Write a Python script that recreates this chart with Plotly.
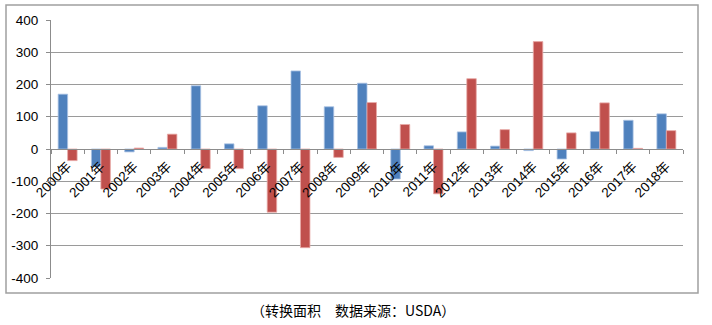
import plotly.graph_objects as go

years = [f"{y}年" for y in range(2000, 2019)]
series_a = [170, -55, -9, 5, 196, 16, 134, 242, 131, 204, -93, 10, 53, 9, -5, -31, 54, 89, 109]
series_b = [-36, -124, 3, 46, -61, -61, -196, -306, -26, 144, 76, -139, 218, 60, 333, 50, 143, 2, 57]
y_ticks = [400, 300, 200, 100, 0, -100, -200, -300, -400]
caption = "（转换面积　数据来源：USDA）"

fig = go.Figure()
fig.add_trace(go.Bar(x=years, y=series_a, name="A",
                     marker=dict(color="#4F81BD", line=dict(color="#A9C1E3", width=0.8))))
fig.add_trace(go.Bar(x=years, y=series_b, name="B",
                     marker=dict(color="#C0504D", line=dict(color="#E8A9A7", width=0.8))))

fig.update_layout(
    width=712, height=325,
    margin=dict(l=51, r=29, t=20, b=47),
    paper_bgcolor="white", plot_bgcolor="white",
    barmode="group", bargap=0.43, bargroupgap=0,
    showlegend=False,
    font=dict(family="Liberation Sans, Arial, sans-serif", size=13, color="#000000"),
)
fig.update_yaxes(
    range=[-400, 400], tickvals=y_ticks, ticktext=[str(v) for v in y_ticks],
    showgrid=True, gridcolor="#9A9A9A", gridwidth=1.4,
    zeroline=False, showline=True, linecolor="#8C8C8C", linewidth=1,
    ticks="outside", ticklen=4, tickcolor="#8C8C8C",
    tickfont=dict(size=13.5), ticklabelstandoff=5, domain=[0, 1],
)
fig.update_xaxes(
    anchor="free", position=0.5,
    showline=True, linecolor="#8C8C8C", linewidth=1.4,
    ticks="outside", ticklen=4, tickcolor="#8C8C8C", tickson="boundaries",
    tickangle=-45, ticklabelstandoff=3,
    tickfont=dict(family="Liberation Sans, Noto Sans CJK SC, sans-serif", size=13.5),
    showgrid=False, zeroline=False,
)
fig.add_shape(type="rect", xref="paper", yref="paper",
              x0=-45/632, x1=(698-51)/632, y0=(278-293)/258, y1=(278-5)/258,
              line=dict(color="#A0A0A0", width=1.5), fillcolor="rgba(0,0,0,0)", layer="below")
fig.add_annotation(text=caption, xref="paper", yref="paper",
                   x=(353-51)/632, y=(278-310)/258, showarrow=False,
                   xanchor="center", yanchor="middle",
                   font=dict(family="Noto Sans CJK SC", size=14, color="#000000"))

fig.write_html("out.html")
